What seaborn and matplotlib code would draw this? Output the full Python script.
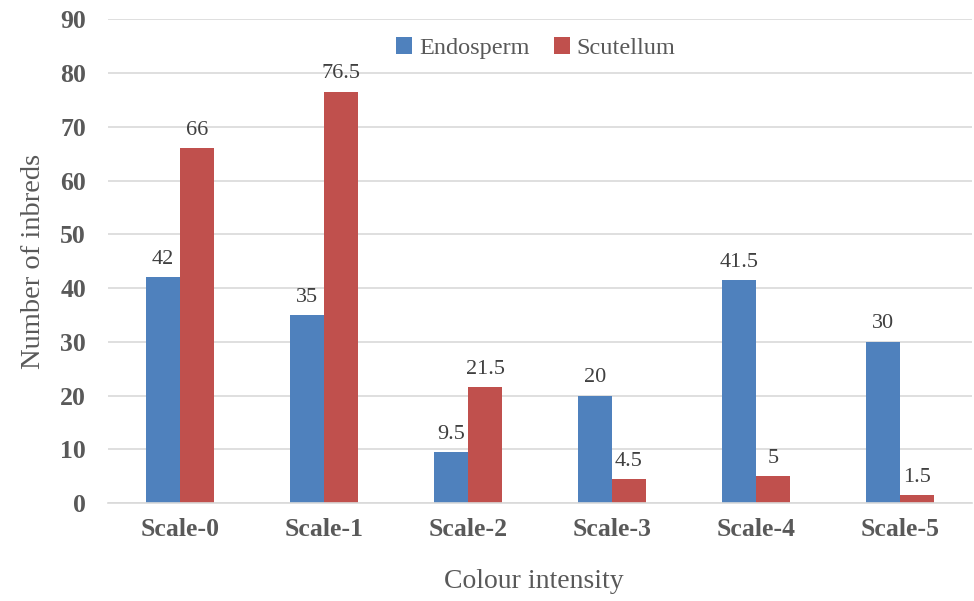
import matplotlib
matplotlib.use("Agg")
import matplotlib.pyplot as plt
import seaborn as sns
import pandas as pd

categories = ["Scale-0", "Scale-1", "Scale-2", "Scale-3", "Scale-4", "Scale-5"]
endosperm = [42, 35, 9.5, 20, 41.5, 30]
scutellum = [66, 76.5, 21.5, 4.5, 5, 1.5]
series_names = ["Endosperm", "Scutellum"]
y_ticks = [0, 10, 20, 30, 40, 50, 60, 70, 80, 90]

df = pd.DataFrame({
    "scale": categories * 2,
    "tissue": [series_names[0]] * len(categories) + [series_names[1]] * len(categories),
    "count": endosperm + scutellum,
})

sns.set_theme(style="white")
plt.rcParams["font.family"] = ["Liberation Serif", "DejaVu Serif"]

text_color = "#595959"
palette = {"Endosperm": "#4F81BD", "Scutellum": "#C0504D"}

fig = plt.figure(figsize=(9.74, 6.01), dpi=100)
ax = fig.add_axes([0.111, 0.163, 0.887, 0.805])

sns.barplot(data=df, x="scale", y="count", hue="tissue", palette=palette,
            width=0.47, gap=0, saturation=1, ax=ax, linewidth=0, errorbar=None)

for container in ax.containers:
    ax.bar_label(container, fmt="%g", padding=6, fontsize=16, color="#404040")

ax.set_ylim(0, 90)
ax.set_yticks(y_ticks)
ax.set_xlim(-0.5, len(categories) - 0.5)
ax.yaxis.grid(True, color="#D9D9D9", linewidth=1.2)
ax.set_axisbelow(True)
for side in ["left", "right", "top"]:
    ax.spines[side].set_visible(False)
ax.spines["bottom"].set_color("#D9D9D9")
ax.spines["bottom"].set_linewidth(1.2)

ax.tick_params(axis="y", length=0, pad=16, labelsize=18.5, labelcolor=text_color)
ax.tick_params(axis="x", length=0, pad=11, labelsize=18.5, labelcolor=text_color)
for lbl in ax.get_xticklabels() + ax.get_yticklabels():
    lbl.set_fontweight("bold")

ax.set_xlabel("Colour intensity", fontsize=20, color=text_color)
ax.xaxis.set_label_coords(0.493, -0.137)
ax.set_ylabel("Number of inbreds", fontsize=20.5, color=text_color, labelpad=10)

leg = ax.legend(loc="center", bbox_to_anchor=(0.495, 0.94), ncol=2, frameon=False,
                fontsize=17.5, handlelength=0.65, handleheight=0.65, handletextpad=0.3,
                columnspacing=1.0, title=None)
for t in leg.get_texts():
    t.set_color(text_color)

fig.savefig("out.png", dpi=100)
